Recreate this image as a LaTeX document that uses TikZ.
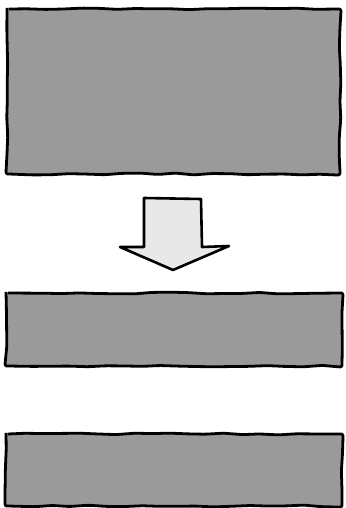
\documentclass[tikz,border=0pt]{standalone}
\usetikzlibrary{decorations.pathmorphing}
\definecolor{boxgray}{HTML}{9A9A9A}
\definecolor{arrowfill}{HTML}{E8E8E8}
\tikzset{
  sketchy/.style={line width=2.8pt, line join=round, draw=black,
    decorate, decoration={random steps, segment length=18pt, amplitude=0.9pt}, rounded corners=2pt},
  graybox/.style={sketchy, fill=boxgray},
  blockarrow/.style={line width=2.6pt, line join=round, draw=black, fill=arrowfill}
}
\begin{document}
\begin{tikzpicture}[x=1pt,y=-1pt]
\pgfmathsetseed{7}
\path[use as bounding box] (0,0) rectangle (345,508);
\path[graybox] (7,9) -- (340,9) -- (340,174) -- (7,174) -- cycle;
\path[graybox] (6,293) -- (342,293) -- (342,366) -- (6,366) -- cycle;
\path[graybox] (6,434) -- (342,434) -- (342,506) -- (6,506) -- cycle;
\path[blockarrow] (144,198) -- (201,199) -- (202,247) -- (229,246) -- (173,270) -- (120,247) -- (144,247) -- cycle;
\end{tikzpicture}
\end{document}
